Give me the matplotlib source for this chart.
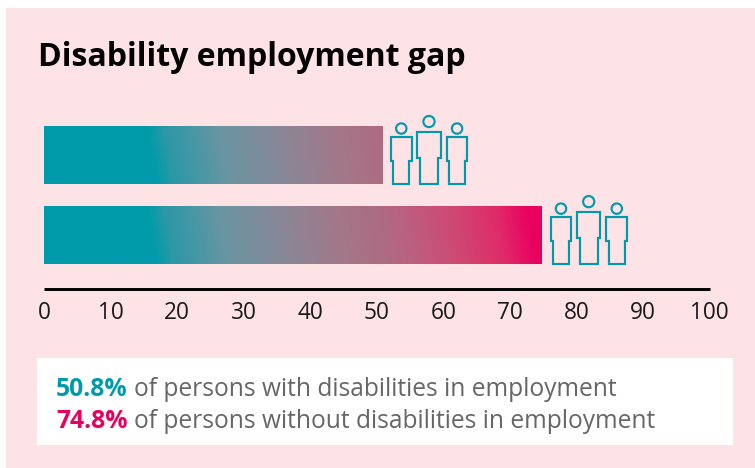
import numpy as np
import matplotlib
matplotlib.use('Agg')
import matplotlib.pyplot as plt
from matplotlib.colors import LinearSegmentedColormap
from matplotlib.patches import Rectangle, Circle, Polygon

# employment rates, with disabilities first
groups = ['with disabilities', 'without disabilities']
rates = [50.8, 74.8]
x_ticks = [0, 10, 20, 30, 40, 50, 60, 70, 80, 90, 100]
title = 'Disability employment gap'

W, H = 755, 468
TEAL = '#009BAA'
PINK = '#E8005F'

plt.rcParams['font.family'] = ['Open Sans', 'DejaVu Sans']

fig = plt.figure(figsize=(W / 100, H / 100), dpi=100, facecolor='white')

# overlay in pixel coordinates, y pointing down
bg = fig.add_axes([0, 0, 1, 1])
bg.set_xlim(0, W)
bg.set_ylim(H, 0)
bg.axis('off')
bg.add_patch(Rectangle((6, 8), W - 6, H - 8, fc='#FDE2E6', ec='none'))
bg.add_patch(Rectangle((37, 358), 696, 87, fc='white', ec='none'))
bg.text(38, 57.5, title, fontsize=23, fontweight='bold', color='black', va='center', ha='left')

ax = fig.add_axes([44 / W, 1 - 289.7 / H, (709.5 - 44) / W, (289.7 - 100) / H])
ax.patch.set_alpha(0)

cmap = LinearSegmentedColormap.from_list('gap', [
    (0.0, TEAL), (0.215, TEAL), (0.25, '#2C98A7'), (0.31, '#4B97A5'), (0.36, '#6A95A2'),
    (0.49, '#8B8696'), (0.59, '#A27889'), (0.67, '#AC6D84'), (0.715, '#B76482'),
    (0.815, '#CC4C76'), (0.916, '#DF2C68'), (0.985, PINK), (1.0, PINK)])

# gradient runs along the value axis, leaning slightly with height
y_pos = [1, 0]
bar_h = 0.73
for rate, y in zip(rates, y_pos):
    bar = ax.barh(y, rate, height=bar_h, color='none', edgecolor='none')[0]
    xs = np.linspace(0, rate, 500)
    ys = np.linspace(0, 1, 60)
    xx, yy = np.meshgrid(xs, ys)
    t = (xx + 1.5 * yy - 0.75) / max(rates)
    img = ax.imshow(t, extent=(0, rate, y + bar_h / 2, y - bar_h / 2), origin='upper',
                    cmap=cmap, vmin=0, vmax=1, aspect='auto', interpolation='bilinear')
    img.set_clip_path(bar)

ax.set_xlim(0, 100)
ax.set_ylim(-0.684, 1.684)
ax.set_yticks([])
ax.set_xticks(x_ticks)
ax.tick_params(axis='x', length=0, pad=8.5, labelsize=16.3, labelcolor='#1A1A1A')
for side in ['top', 'left', 'right']:
    ax.spines[side].set_visible(False)
ax.spines['bottom'].set_linewidth(2.1)
ax.spines['bottom'].set_color('black')
ax.spines['bottom'].set_capstyle('butt')
ax.spines['bottom'].set_position(('outward', -0.6))


def person(cx, base, half_w, half_leg, shoulder, top, head_y, head_r):
    # outline of a figure standing on base, with the head floating above
    pts = [(cx - half_leg, base), (cx - half_leg, shoulder), (cx - half_w, shoulder),
           (cx - half_w, top), (cx + half_w, top), (cx + half_w, shoulder),
           (cx + half_leg, shoulder), (cx + half_leg, base)]
    top_layer.add_patch(Polygon(pts, closed=True, fc='none', ec=TEAL, lw=1.55))
    top_layer.add_patch(Circle((cx, head_y), head_r, fc='none', ec=TEAL, lw=1.55))


top_layer = fig.add_axes([0, 0, 1, 1])
top_layer.set_xlim(0, W)
top_layer.set_ylim(H, 0)
top_layer.axis('off')
top_layer.patch.set_alpha(0)

# three figures follow the end of each bar
for rate, y in zip(rates, y_pos):
    end_x, base = ax.transData.transform((rate, y - bar_h / 2))
    base = H - base
    person(end_x + 19.2, base - 0.5, 10.4, 8, base - 23, base - 47, base - 55.5, 5.2)
    person(end_x + 46.9, base - 0.5, 11.8, 9, base - 26, base - 52, base - 62.5, 5.6)
    person(end_x + 75, base - 0.5, 10.4, 8, base - 23, base - 47, base - 55.5, 5.2)

# two-colour caption lines
captions = [(f'{rates[0]}%', TEAL, f'of persons {groups[0]} in employment', 387),
            (f'{rates[1]}%', PINK, f'of persons {groups[1]} in employment', 418.5)]
fig.canvas.draw()
renderer = fig.canvas.get_renderer()
for value, color, rest, ypx in captions:
    t1 = top_layer.text(56, ypx, value, fontsize=17.8, fontweight='bold', color=color,
                        va='center_baseline', ha='left')
    right = t1.get_window_extent(renderer).x1
    top_layer.text(right + 6, ypx, rest, fontsize=17.65, color='#666666',
                   va='center_baseline', ha='left')

fig.savefig('out.png', dpi=100, facecolor='white')
